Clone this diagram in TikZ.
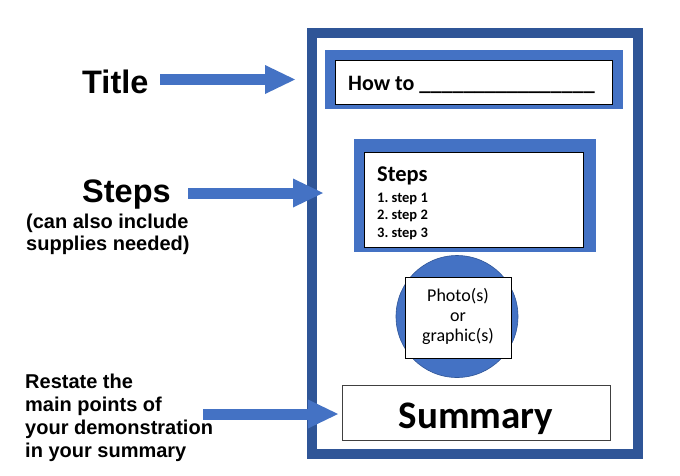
\documentclass[tikz,border=0pt]{standalone}
\usepackage{fontspec}
\setmainfont{Carlito}
\newfontfamily\arialfont{Liberation Sans}
\usetikzlibrary{arrows.meta}
\definecolor{framecol}{HTML}{2F5597}
\definecolor{boxblue}{HTML}{4472C4}
\definecolor{arrowblue}{HTML}{4472C4}
\definecolor{sumborder}{HTML}{404040}
\frenchspacing
\begin{document}
\begin{tikzpicture}[x=1pt,y=-1pt,
  lbl/.style={inner sep=0pt, anchor=base west, font=\arialfont\bfseries\fontsize{20}{20}\selectfont},
  biglbl/.style={inner sep=0pt, anchor=base west, font=\arialfont\bfseries\fontsize{32.5}{32.5}\selectfont},
  intext/.style={inner sep=0pt, anchor=base west},
  bigarrow/.style={draw=arrowblue, line width=11pt, -{Triangle[length=30pt,width=29pt,line width=0pt]}},
  bluebox/.style={fill=boxblue, draw=none, inner sep=0pt, anchor=north west},
  whitebox/.style={fill=white, draw=black, line width=0.8pt, inner sep=0pt, anchor=north west}]
\useasboundingbox[fill=white] (0,0) rectangle (680,475);

% outer frame
\draw[framecol, line width=10pt] (312,33) rectangle (638,454);

% title box
\node[bluebox, minimum width=298pt, minimum height=59pt] (tout) at (325,50) {};
\node[whitebox, minimum width=277pt, minimum height=44pt] (tin) at (335,60) {};
\node[intext, font=\bfseries\fontsize{22}{22}\selectfont] (howto) at (348,90) {How to \_\_\_\_\_\_\_\_\_\_\_\_\_\_\_\_};

% steps box
\node[bluebox, minimum width=242pt, minimum height=113pt] (sout) at (354,139) {};
\node[whitebox, minimum width=219pt, minimum height=95pt] (sin) at (364,152) {};
\node[intext, font=\bfseries\fontsize{22.5}{22.5}\selectfont] (stepshead) at (377,181) {Steps};
\node[intext, font=\bfseries\fontsize{14.5}{14.5}\selectfont] (s1) at (377,202) {1. step 1};
\node[intext, font=\bfseries\fontsize{14.5}{14.5}\selectfont] (s2) at (377,219.5) {2. step 2};
\node[intext, font=\bfseries\fontsize{14.5}{14.5}\selectfont] (s3) at (377,237) {3. step 3};

% photo circle and box
\node[circle, fill=boxblue, draw=framecol, line width=0.6pt, minimum size=122pt, inner sep=0pt] (circ) at (457,316.5) {};
\node[whitebox, minimum width=106pt, minimum height=81pt] (photo) at (405,277) {};
\node[inner sep=0pt, anchor=base, font=\fontsize{18}{18}\selectfont] (ph1) at (458,301) {Photo(s)};
\node[inner sep=0pt, anchor=base, font=\fontsize{18}{18}\selectfont] (ph2) at (458,321) {or};
\node[inner sep=0pt, anchor=base, font=\fontsize{18}{18}\selectfont] (ph3) at (458,341) {graphic(s)};

% summary box
\node[whitebox, draw=sumborder, minimum width=268pt, minimum height=55pt] (sum) at (342,385) {};
\node[inner sep=0pt, anchor=base, font=\bfseries\fontsize{39}{39}\selectfont] (sumtext) at (476,428) {Summary};

% left labels
\node[biglbl] (ltitle) at (82,93) {Title};
\node[biglbl] (lsteps) at (82,202) {Steps};
\node[lbl] (lsteps1) at (26,228) {(can also include};
\node[lbl] (lsteps2) at (26,250) {supplies needed)};
\node[lbl] (r1) at (25,388) {Restate the};
\node[lbl] (r2) at (25,411) {main points of};
\node[lbl] (r3) at (25,434) {your demonstration};
\node[lbl] (r4) at (25,457) {in your summary};

% arrows
\coordinate (a1s) at (160,79.5);
\coordinate (a1e) at (295,79.5);
\coordinate (a2s) at (188,193);
\coordinate (a2e) at (323,193);
\coordinate (a3s) at (203,414);
\coordinate (a3e) at (338,414);
\draw[bigarrow] (a1s) -- (a1e);
\draw[bigarrow] (a2s) -- (a2e);
\draw[bigarrow] (a3s) -- (a3e);
\end{tikzpicture}
\end{document}
